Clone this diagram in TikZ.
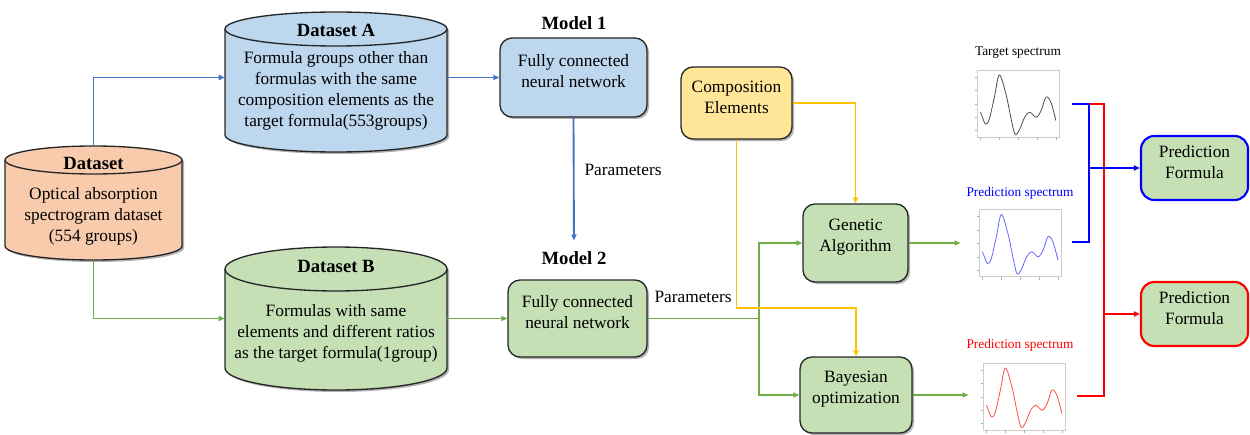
\documentclass[tikz,border=0pt]{standalone}
\usepackage{fontspec}
\setmainfont{Liberation Serif}
\usetikzlibrary{arrows.meta,shadows,fit,calc}
\definecolor{cblue}{HTML}{BDD7EE}
\definecolor{cgreen}{HTML}{C5E0B4}
\definecolor{csalmon}{HTML}{F8CBAD}
\definecolor{cyellow}{HTML}{FFE699}
\definecolor{lblue}{HTML}{4472C4}
\definecolor{lgreen}{HTML}{70AD47}
\definecolor{lyellow}{HTML}{FFC000}
\definecolor{bord}{HTML}{262626}
\definecolor{pblue}{HTML}{0000FF}
\definecolor{pred}{HTML}{FF0000}

\newcommand\dbcyl[6]{%
  \pgfmathsetmacro\cylrx{(#2-#1)/2}%
  \pgfmathsetmacro\cylyt{-(#3)-(#5)}%
  \pgfmathsetmacro\cylyb{-(#4)+(#5)}%
  \fill[black,opacity=0.3,shift={(2,-2)}] (#1,\cylyt) -- (#1,\cylyb)
     arc[start angle=180,end angle=360,x radius=\cylrx,y radius=#5] -- (#2,\cylyt)
     arc[start angle=0,end angle=180,x radius=\cylrx,y radius=#5] -- cycle;
  \draw[fill=#6,draw=bord,line width=1pt] (#1,\cylyt) -- (#1,\cylyb)
     arc[start angle=180,end angle=360,x radius=\cylrx,y radius=#5] -- (#2,\cylyt)
     arc[start angle=0,end angle=180,x radius=\cylrx,y radius=#5] -- cycle;
  \draw[draw=bord,line width=1pt] (#1,\cylyt)
     arc[start angle=180,end angle=360,x radius=\cylrx,y radius=#5];
}

\newcommand\specplot[2]{%
  \begin{scope}[shift={(#1.south west)},x=61.5pt,y=50.25pt]
    \foreach \v in {0.1,0.3,0.5,0.7,0.9} \draw[gray!60,line width=0.3pt] (0,\v) -- (-0.03,\v);
    \foreach \u in {0.04,0.27,0.5,0.73,0.96} \draw[gray!60,line width=0.3pt] (\u,0) -- (\u,-0.04);
    \draw[#2,line width=0.6pt] plot[smooth,tension=0.55] coordinates {
      (0.04,0.375) (0.07,0.28) (0.1,0.2) (0.145,0.26) (0.21,0.6) (0.27,0.93)
      (0.35,0.65) (0.41,0.3) (0.46,0.05) (0.51,0.1) (0.58,0.3) (0.64,0.375)
      (0.72,0.3) (0.78,0.4) (0.84,0.6) (0.9,0.52) (0.96,0.25)};
  \end{scope}
}

\begin{document}
\begin{tikzpicture}[x=0.75pt,y=0.75pt,
  body/.style={font=\fontsize{13}{15.75}\selectfont, align=center},
  ttl/.style={font=\fontsize{14}{16}\selectfont\bfseries, inner sep=1pt},
  box/.style={draw=bord, line width=1pt, rounded corners=9pt, inner sep=0pt, body,
    drop shadow={shadow xshift=1.5pt, shadow yshift=-1.5pt, opacity=0.3, fill=black}},
  pbox/.style={draw=#1, line width=1.6pt, rounded corners=10pt, fill=cgreen, inner sep=0pt, body},
  tip/.style={-{Triangle[length=4.5pt,width=3.8pt]}},
  cb/.style={lblue, line width=1.4pt},
  cg/.style={lgreen, line width=1.4pt},
  cy/.style={lyellow, line width=1.4pt},
  brb/.style={pblue, line width=1.8pt},
  brr/.style={pred, line width=1.8pt},
  specframe/.style={draw=gray!40, line width=0.5pt, minimum width=61.5pt, minimum height=50.25pt, inner sep=0pt},
  speclabel/.style={font=\fontsize{10}{12}\selectfont, inner sep=1pt},
  plabel/.style={font=\fontsize{13}{15}\selectfont, inner sep=1pt}
]
\useasboundingbox (0,0) rectangle (1250,-435);

% cylinders
\dbcyl{5}{182}{146}{260}{14}{csalmon}
\dbcyl{225}{447}{12}{152}{17}{cblue}
\dbcyl{225}{447}{247}{390}{22}{cgreen}
\node[fit={(5,-146)(182,-260)}, inner sep=0pt] (ds) {};
\node[fit={(225,-12)(447,-152)}, inner sep=0pt] (dsA) {};
\node[fit={(225,-247)(447,-390)}, inner sep=0pt] (dsB) {};

\node[ttl] (dst) at (93.5,-163) {Dataset};
\node[body] (dsx) at (93.5,-216.5) {Optical absorption\\spectrogram dataset\\(554 groups)};
\node[ttl] (dsAt) at (336,-30) {Dataset A};
\node[body] (dsAx) at (336,-91) {Formula groups other than\\formulas with the same\\composition elements as the\\target formula(553groups)};
\node[ttl] (dsBt) at (336,-266) {Dataset B};
\node[body] (dsBx) at (336,-333) {Formulas with same\\elements and different ratios\\as the target formula(1group)};

% boxes
\node[box, fill=cblue, fit={(500,-38)(647,-117)}] (m1) {Fully connected\\neural network};
\node[ttl] (m1t) at (574,-23) {Model 1};
\node[box, fill=cgreen, fit={(508,-280)(647,-357)}] (m2) {Fully connected\\neural network};
\node[ttl] (m2t) at (574,-258) {Model 2};
\node[box, fill=cyellow, fit={(681,-67)(792,-139)}] (ce) {Composition\\Elements};
\node[box, fill=cgreen, fit={(803,-204)(908,-282)}] (ga) {Genetic\\Algorithm};
\node[box, fill=cgreen, fit={(800,-357)(912,-433)}] (bo) {Bayesian\\optimization};
\node[pbox=pblue, fit={(1141,-136)(1248,-200)}] (pf1) {Prediction\\Formula};
\node[pbox=pred, fit={(1141,-282)(1248,-346)}] (pf2) {Prediction\\Formula};

% spectra
\node[specframe] (tsp) at (1018.5,-103.5) {};
\node[specframe] (bsp) at (1020.5,-243) {};
\node[specframe] (rsp) at (1024.5,-396.5) {};
\specplot{tsp}{black!70}
\specplot{bsp}{pblue!60}
\specplot{rsp}{pred!70}
\node[speclabel] (tspl) at (1018,-53) {Target spectrum};
\node[speclabel, text=pblue] (bspl) at (1020,-193) {Prediction spectrum};
\node[speclabel, text=pred] (rspl) at (1020,-345) {Prediction spectrum};

% labels
\node[plabel] (p1) at (623,-170) {Parameters};
\node[plabel] (p2) at (693,-297) {Parameters};

% connectors
\draw[cb, tip] (ds.north) |- (dsA.west |- m1.west);
\draw[cb, tip] (dsA.east |- m1.west) -- (m1.west);
\draw[cb, tip, shorten >=7pt] (m1.south) -- (m2t.north);
\draw[cg, tip] (ds.south) |- (dsB.west |- m2.west);
\draw[cg, tip] (dsB.east |- m2.west) -- (m2.west);
\coordinate (gj) at (759,-318.5);
\draw[cg] (m2.east) -- (gj);
\draw[cg, tip] (gj) |- (ga.west);
\draw[cg, tip] (gj) |- (bo.west);
\draw[cy, tip] (ce.east) -| (ga.north);
\coordinate (yj) at (736.5,-308);
\draw[cy, tip] (ce.south) -- (yj) -| (bo.north);
\draw[cg, tip, shorten >=14pt] (ga.east) -- (bsp.west |- ga.east);
\draw[cg, tip, shorten >=11pt] (bo.east) -- (rsp.west |- bo.east);

% brackets
\coordinate (bt) at (1089,-104);
\coordinate (bb) at (1089,-242);
\coordinate (rt) at (1104,-104);
\coordinate (rb) at (1104,-396);
\draw[brr] (bt) -- (rt) -- (rb) -- (1077,-396);
\draw[brb] (1072,-104) -- (bt) -- (bb) -- (1072,-242);
\draw[brb, tip] (bt |- pf1.west) -- (pf1.west);
\draw[brr, tip] (rt |- pf2.west) -- (pf2.west);
\end{tikzpicture}
\end{document}
